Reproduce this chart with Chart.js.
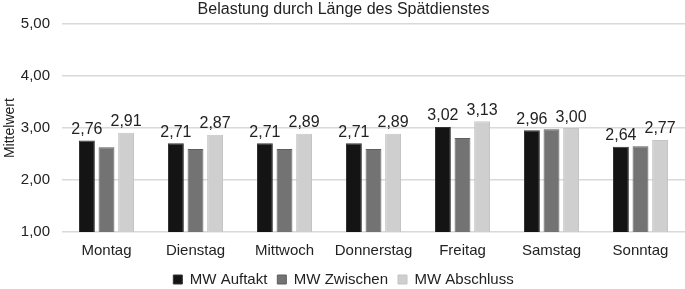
<!DOCTYPE html>
<html>
<head>
<meta charset="utf-8">
<script src="https://cdn.jsdelivr.net/npm/chart.js@4"></script>
<style>
  html, body { margin: 0; padding: 0; background: #fff; }
  #wrap { width: 685px; height: 289px; }
</style>
</head>
<body>
<div id="wrap"><canvas id="chart"></canvas></div>
<script>
const days = ['Montag', 'Dienstag', 'Mittwoch', 'Donnerstag', 'Freitag', 'Samstag', 'Sonntag'];
const mwAuftakt = [2.76, 2.71, 2.71, 2.71, 3.02, 2.96, 2.64];
const mwZwischen = [2.63, 2.60, 2.60, 2.60, 2.81, 2.98, 2.65];
const mwAbschluss = [2.91, 2.87, 2.89, 2.89, 3.13, 3.00, 2.77];
const yTicks = [1, 2, 3, 4, 5];

const fmt = v => v.toFixed(2).replace('.', ',');

// labels above bars, only for Auftakt and Abschluss (like the original)
const valueLabels = {
  id: 'valueLabels',
  afterDatasetsDraw(chart) {
    const ctx = chart.ctx;
    ctx.save();
    ctx.font = '16px "Liberation Sans", Arial, sans-serif';
    ctx.fillStyle = '#222';
    ctx.textAlign = 'center';
    ctx.textBaseline = 'bottom';
    [0, 2].forEach(i => {
      const meta = chart.getDatasetMeta(i);
      meta.data.forEach((bar, j) => {
        ctx.fillText(fmt(chart.data.datasets[i].data[j]), bar.x, bar.y - 3);
      });
    });
    ctx.restore();
  }
};

Chart.defaults.font.family = '"Liberation Sans", Arial, sans-serif';
Chart.defaults.color = '#222';

new Chart(document.getElementById('chart'), {
  type: 'bar',
  data: {
    labels: days,
    datasets: [
      { label: 'MW Auftakt', data: mwAuftakt, backgroundColor: '#141414', borderColor: '#333', borderWidth: 1 },
      { label: 'MW Zwischen', data: mwZwischen, backgroundColor: '#737373', borderColor: '#5e5e5e', borderWidth: 1 },
      { label: 'MW Abschluss', data: mwAbschluss, backgroundColor: '#cfcfcf', borderColor: '#c4c4c4', borderWidth: 1 },
    ],
  },
  options: {
    responsive: true,
    maintainAspectRatio: false,
    animation: false,
    // negative bottom padding pulls the legend a bit lower
    layout: { padding: { left: 2, right: 0, top: 0, bottom: -8 } },
    datasets: { bar: { categoryPercentage: 0.66, barPercentage: 0.81 } },
    scales: {
      x: {
        grid: { display: false },
        border: { display: false },
        ticks: { font: { size: 15 }, color: '#222', padding: 2 },
      },
      y: {
        min: 1,
        max: 5,
        afterBuildTicks: axis => { axis.ticks = yTicks.map(v => ({ value: v })); },
        afterFit: axis => { axis.width = 60; },
        grid: { color: '#d9d9d9', lineWidth: 1.5, drawTicks: false },
        border: { display: false },
        ticks: { font: { size: 15 }, color: '#222', padding: 12, callback: v => fmt(v) },
        title: { display: true, text: 'Mittelwert', font: { size: 14 }, color: '#222', padding: 0 },
      },
    },
    plugins: {
      title: {
        display: true,
        text: 'Belastung durch Länge des Spätdienstes',
        font: { size: 16, weight: 'normal' },
        color: '#222',
        padding: { top: 0, bottom: 5 },
      },
      legend: {
        position: 'bottom',
        labels: { boxWidth: 9, boxHeight: 9, font: { size: 15 }, color: '#222', padding: 10 },
      },
      tooltip: { enabled: false },
    },
  },
  plugins: [valueLabels],
});
</script>
</body>
</html>
